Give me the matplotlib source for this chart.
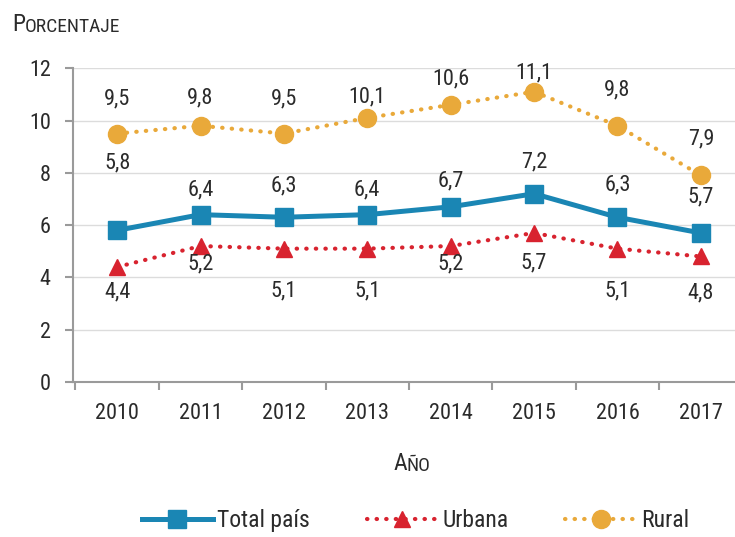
import matplotlib
matplotlib.use("Agg")
import matplotlib.pyplot as plt
from matplotlib import font_manager

years = ["2010", "2011", "2012", "2013", "2014", "2015", "2016", "2017"]
total = [5.8, 6.4, 6.3, 6.4, 6.7, 7.2, 6.3, 5.7]
urbana = [4.4, 5.2, 5.1, 5.1, 5.2, 5.7, 5.1, 4.8]
rural = [9.5, 9.8, 9.5, 10.1, 10.6, 11.1, 9.8, 7.9]
yticks = [0, 2, 4, 6, 8, 10, 12]

# label offsets in pixels (style, not data)
off_total = [67, 25, 31, 25, 26, 32, 32, 36]
off_urb = [-25, -18, -42, -42, -18, -30, -42, -36]
off_rur = [35, 28, 35, 21, 26, 19, 36, 36]

fl = font_manager.fontManager.ttflist
names = {f.name for f in fl}
STRETCH = "normal"
FONT = "DejaVu Sans"
for cand in ["Liberation Sans Narrow", "Roboto Condensed", "Open Sans Condensed",
             "DejaVu Sans Condensed", "Noto Sans Condensed"]:
    if cand in names:
        FONT = cand
        break
else:
    for f in fl:
        if f.name == "DejaVu Sans" and str(f.stretch) in ("condensed", "semi-condensed"):
            STRETCH = "condensed"
            break
plt.rcParams["font.family"] = [FONT, "DejaVu Sans"]
plt.rcParams["font.stretch"] = STRETCH

BLUE = "#1a86b4"
RED = "#d8232f"
GOLD = "#e9a93a"
TXT = "#2b2b2b"

fig = plt.figure(figsize=(7.35, 5.37), dpi=100)
ax = fig.add_axes([0.0993, 0.2886, 0.9007, 0.5844])
x = list(range(len(years)))

ax.plot(x, rural, color=GOLD, lw=3, linestyle=(0, (0.1, 2.2)), dash_capstyle="round",
        marker="o", ms=13, mfc=GOLD, mec=GOLD, label="Rural", zorder=3)
ax.plot(x, total, color=BLUE, lw=3.6, marker="s", ms=13, mfc=BLUE, mec=BLUE,
        label="Total país", zorder=4)
ax.plot(x, urbana, color=RED, lw=3, linestyle=(0, (0.1, 2.2)), dash_capstyle="round",
        marker="^", ms=12, mfc=RED, mec=RED, label="Urbana", zorder=3)

def lab(vals, offs):
    for xi, v, o in zip(x, vals, offs):
        ax.annotate(f"{v:.1f}".replace(".", ","), (xi, v), xytext=(0, o * 0.72),
                    textcoords="offset points", ha="center", va="center",
                    fontsize=16, color=TXT, zorder=5)

lab(rural, off_rur)
lab(total, off_total)
lab(urbana, off_urb)

ax.set_xlim(-0.53, 7.41)
ax.set_ylim(0, 12)
ax.set_yticks(yticks)
ax.set_yticklabels([str(t) for t in yticks], fontsize=16, color=TXT)
ax.set_xticks(x)
ax.set_xticklabels(years, fontsize=16, color=TXT)
ax.set_xticks([i + 0.5 for i in range(-1, 7)], minor=True)
ax.tick_params(axis="x", which="major", length=0, pad=15)
ax.tick_params(axis="x", which="minor", length=6, width=1.5, color="#9a9a9a", direction="out")
ax.tick_params(axis="y", length=6, width=1.5, color="#9a9a9a", pad=10)
ax.grid(axis="y", color="#dcdcdc", lw=1)
ax.set_axisbelow(True)
for s in ["top", "right"]:
    ax.spines[s].set_visible(False)
for s in ["left", "bottom"]:
    ax.spines[s].set_color("#9a9a9a")
    ax.spines[s].set_linewidth(1.5)

t1 = fig.text(0.016, 0.942, "P", fontsize=17, color=TXT, ha="left", va="baseline")
ax.annotate("ORCENTAJE", xy=(1, 0), xycoords=t1, fontsize=14, color=TXT,
            ha="left", va="bottom", annotation_clip=False)

t2 = fig.text(0.5347, 0.124, "A", fontsize=17, color=TXT, ha="left", va="baseline")
ax.annotate("ÑO", xy=(1, 0), xycoords=t2, fontsize=14, color=TXT,
            ha="left", va="bottom", annotation_clip=False)

h, l = ax.get_legend_handles_labels()
order = [1, 2, 0]
fig.legend([h[i] for i in order], [l[i] for i in order], loc="center",
           bbox_to_anchor=(0.565, 0.03), ncol=3, frameon=False, fontsize=17,
           handlelength=3.0, columnspacing=2.4, handletextpad=0.2, labelcolor=TXT)

fig.savefig("out.png", dpi=100)
